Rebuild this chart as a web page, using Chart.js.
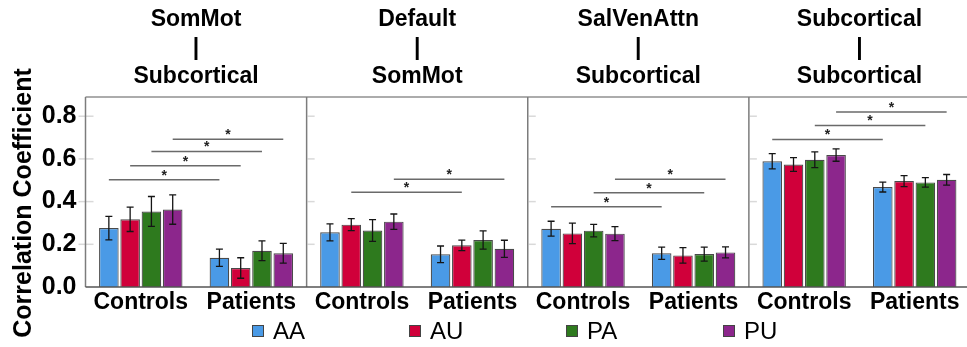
<!DOCTYPE html>
<html>
<head>
<meta charset="utf-8">
<script src="https://cdn.jsdelivr.net/npm/chart.js@4.4.1/dist/chart.umd.min.js"></script>
<style>
  html, body { margin: 0; padding: 0; background: #fff; overflow: hidden; }
  #wrap { width: 970px; height: 347px; }
</style>
</head>
<body>
<div id="wrap"><canvas id="chartCorr" width="970" height="347"></canvas></div>
<script>
// Panels (network pairs) and groups
const panelTop = ['SomMot', 'Default', 'SalVenAttn', 'Subcortical'];
const panelBottom = ['Subcortical', 'SomMot', 'Subcortical', 'Subcortical'];
const groups = ['Controls', 'Patients'];

// Series (order: panel1 Controls, panel1 Patients, panel2 Controls, ...)
const seriesNames = ['AA', 'AU', 'PA', 'PU'];
const seriesColors = ['#4a9ae6', '#d0003a', '#2e7a1e', '#8c268c'];

const valuesAA = [0.276, 0.137, 0.256, 0.153, 0.273, 0.158, 0.589, 0.468];
const valuesAU = [0.317, 0.089, 0.292, 0.195, 0.251, 0.148, 0.574, 0.496];
const valuesPA = [0.354, 0.170, 0.265, 0.220, 0.264, 0.154, 0.596, 0.490];
const valuesPU = [0.363, 0.158, 0.306, 0.179, 0.250, 0.162, 0.618, 0.502];

// Error bar half-widths
const errAA = [0.055, 0.040, 0.040, 0.039, 0.035, 0.029, 0.036, 0.023];
const errAU = [0.057, 0.048, 0.028, 0.025, 0.048, 0.036, 0.032, 0.026];
const errPA = [0.070, 0.046, 0.051, 0.043, 0.029, 0.033, 0.037, 0.022];
const errPU = [0.069, 0.046, 0.036, 0.040, 0.033, 0.026, 0.029, 0.025];

// Significance brackets: panel index, series index, height (correlation units)
const sigPanel  = [0, 0, 0, 0, 1, 1, 2, 2, 2, 3, 3, 3];
const sigSeries = [0, 1, 2, 3, 1, 3, 0, 2, 3, 0, 2, 3];
const sigLevel  = [0.502, 0.568, 0.635, 0.692, 0.444, 0.505, 0.376, 0.441, 0.505, 0.691, 0.756, 0.820];

const yTicks = [0, 0.2, 0.4, 0.6, 0.8];
const yMax = 0.89;

const labels = panelTop.flatMap(() => groups);
const allValues = [valuesAA, valuesAU, valuesPA, valuesPU];
const allErrors = [errAA, errAU, errPA, errPU];

const FONT = '"Liberation Sans", Arial, sans-serif';

// Error bars + significance lines
const errorBarPlugin = {
    id: 'errorBars',
    afterDatasetsDraw(chart) {
        const ctx = chart.ctx;
        const yScale = chart.scales.y;
        ctx.save();
        ctx.strokeStyle = '#151515';
        ctx.lineWidth = 1.3;
        chart.data.datasets.forEach((ds, i) => {
            const meta = chart.getDatasetMeta(i);
            meta.data.forEach((bar, j) => {
                const v = ds.data[j];
                const e = allErrors[i][j];
                const yHi = yScale.getPixelForValue(v + e);
                const yLo = yScale.getPixelForValue(v - e);
                ctx.beginPath();
                ctx.moveTo(bar.x, yHi); ctx.lineTo(bar.x, yLo);
                ctx.moveTo(bar.x - 3.5, yHi); ctx.lineTo(bar.x + 3.5, yHi);
                ctx.moveTo(bar.x - 3.5, yLo); ctx.lineTo(bar.x + 3.5, yLo);
                ctx.stroke();
            });
        });

        // significance lines between Controls and Patients of the same series
        ctx.strokeStyle = '#6a6a6a';
        ctx.lineWidth = 1.5;
        ctx.fillStyle = '#222';
        ctx.font = 'bold 14px ' + FONT;
        ctx.textAlign = 'center';
        ctx.textBaseline = 'middle';
        sigLevel.forEach((lvl, k) => {
            const meta = chart.getDatasetMeta(sigSeries[k]);
            const x1 = meta.data[sigPanel[k] * 2].x;
            const x2 = meta.data[sigPanel[k] * 2 + 1].x;
            const y = yScale.getPixelForValue(lvl);
            ctx.beginPath();
            ctx.moveTo(x1, y); ctx.lineTo(x2, y);
            ctx.stroke();
            ctx.fillText('*', (x1 + x2) / 2, y - 4);
        });
        ctx.restore();
    }
};

// Panel frames, tick marks, titles, y-axis title, legend
const decorPlugin = {
    id: 'decor',
    afterDraw(chart) {
        const ctx = chart.ctx;
        const area = chart.chartArea;
        const yScale = chart.scales.y;
        const catW = (area.right - area.left) / labels.length;
        ctx.save();

        // short tick marks at left of every panel
        ctx.strokeStyle = '#d9d9d9';
        ctx.lineWidth = 1.5;
        for (let p = 0; p < panelTop.length; p++) {
            const xb = area.left + p * 2 * catW;
            yTicks.forEach(t => {
                if (t === 0) return;
                const y = yScale.getPixelForValue(t);
                ctx.beginPath();
                ctx.moveTo(p === 0 ? xb - 7 : xb + 1, y);
                ctx.lineTo(xb + 8, y);
                ctx.stroke();
            });
        }

        // frames
        ctx.strokeStyle = '#909090';
        ctx.lineWidth = 1.5;
        ctx.beginPath();
        ctx.moveTo(area.left, area.top); ctx.lineTo(area.right + 2, area.top);
        ctx.stroke();
        ctx.strokeStyle = '#7c7c7c';
        for (let p = 0; p <= panelTop.length; p++) {
            const xb = area.left + p * 2 * catW;
            ctx.beginPath();
            ctx.moveTo(xb, area.top); ctx.lineTo(xb, area.bottom);
            ctx.stroke();
        }
        ctx.strokeStyle = '#555';
        ctx.beginPath();
        ctx.moveTo(area.left, area.bottom); ctx.lineTo(area.right + 2, area.bottom);
        ctx.stroke();

        // panel titles
        ctx.fillStyle = '#000';
        ctx.font = 'bold 23px ' + FONT;
        ctx.textAlign = 'center';
        ctx.textBaseline = 'middle';
        panelTop.forEach((t, p) => {
            const cx = area.left + (p * 2 + 1) * catW;
            ctx.fillText(t, cx, 20);
            ctx.fillText('|', cx, 49);
            ctx.fillText(panelBottom[p], cx, 77);
        });

        // y-axis title
        ctx.font = 'bold 25px ' + FONT;
        ctx.translate(24, 203);
        ctx.rotate(-Math.PI / 2);
        ctx.fillText('Correlation Coefficient', 0, 0);
        ctx.setTransform(1, 0, 0, 1, 0, 0);

        // legend
        ctx.font = '24px ' + FONT;
        ctx.textAlign = 'left';
        ctx.lineWidth = 1;
        ctx.strokeStyle = '#444';
        chart.data.datasets.forEach((ds, i) => {
            const lx = 252 + i * 157;
            const ly = 331;
            ctx.fillStyle = ds.backgroundColor;
            ctx.fillRect(lx, ly - 6, 12, 12);
            ctx.strokeRect(lx + 0.5, ly - 5.5, 11, 11);
            ctx.fillStyle = '#000';
            ctx.fillText(ds.label, lx + 21, ly + 1);
        });
        ctx.restore();
    }
};

const chart = new Chart(document.getElementById('chartCorr'), {
    type: 'bar',
    data: {
        labels: labels,
        datasets: seriesNames.map((name, i) => ({
            label: name,
            data: allValues[i],
            backgroundColor: seriesColors[i],
            borderColor: '#4a4a4a',
            borderWidth: 1.2,
            categoryPercentage: 0.77,
            barPercentage: 0.92
        }))
    },
    options: {
        responsive: false,
        animation: false,
        devicePixelRatio: 1,
        layout: { padding: { top: 97, left: 0, right: 0, bottom: 30 } },
        plugins: {
            legend: { display: false },
            tooltip: { enabled: false }
        },
        scales: {
            x: {
                grid: { display: false, drawTicks: false },
                border: { display: false },
                ticks: {
                    color: '#000',
                    font: { family: FONT, size: 23, weight: 'bold' },
                    padding: 2,
                    maxRotation: 0,
                    autoSkip: false
                },
                afterFit(scale) { scale.height = 30; }
            },
            y: {
                min: 0,
                max: yMax,
                grid: { display: false, drawTicks: false },
                border: { display: false },
                ticks: {
                    stepSize: 0.2,
                    includeBounds: false,
                    color: '#000',
                    font: { family: FONT, size: 25, weight: 'bold' },
                    padding: 9,
                    callback: v => v.toFixed(1)
                },
                afterFit(scale) { scale.width = 85.5; }
            }
        }
    },
    plugins: [errorBarPlugin, decorPlugin]
});
</script>
</body>
</html>
